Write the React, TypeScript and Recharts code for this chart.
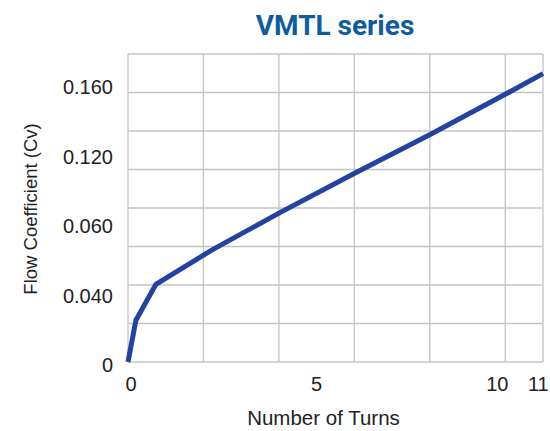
import { LineChart, Line, XAxis, YAxis, CartesianGrid, Label } from "recharts";

// turns vs flow coefficient
const turns = [0, 0.21, 0.74, 2.23, 4.04, 6.02, 8.01, 10.0, 11.0];
const cv = [0, 0.0241, 0.0447, 0.0646, 0.0862, 0.1089, 0.131, 0.1542, 0.1661];

const xTicks = [0, 5, 10, 11];
const yTicks = [0, 0.04, 0.08, 0.12, 0.16];
const yTickLabels = ["0", "0.040", "0.060", "0.120", "0.160"];

const Y_MAX = 0.1774;
const X_MAX = 11;

const FONT = "'Liberation Sans', Arial, sans-serif";

const data = turns.map((t, i) => ({ turns: t, cv: cv[i] }));

const XTick = (props: any) => {
    const { x, y, payload } = props;
    // the two end labels sit a little left of their ticks in the original
    const shift = payload.value === 10 ? -8 : payload.value === 11 ? -4 : payload.value === 0 ? 3 : 0;
    return (
        <text x={x + shift} y={y + 21} textAnchor="middle" fontSize={20} fill="#222" fontFamily={FONT}>
            {payload.value}
        </text>
    );
};

const YTick = (props: any) => {
    const { x, y, payload } = props;
    const idx = yTicks.indexOf(payload.value);
    return (
        <text x={x - 7} y={y + 10} textAnchor="end" fontSize={20} fill="#222" fontFamily={FONT}>
            {yTickLabels[idx]}
        </text>
    );
};

const YTitle = () => (
    <text
        x={30}
        y={209}
        transform="rotate(-90 30 209)"
        textAnchor="middle"
        dominantBaseline="central"
        fontSize={18.5}
        fill="#222"
        fontFamily={FONT}
    >
        Flow Coefficient (Cv)
    </text>
);

export default function App() {
    const gridY = Array.from({ length: 9 }, (_, i) => (Y_MAX * i) / 8);
    const gridX = [0, 2, 4, 6, 8, 10, 11];

    return (
        <div style={{ position: "absolute", left: 0, top: 0, width: 550, height: 431, background: "#fff" }}>
            <div
                style={{
                    position: "absolute",
                    left: 0,
                    width: 670,
                    top: 10,
                    textAlign: "center",
                    fontFamily: "Roboto, sans-serif",
                    fontWeight: 700,
                    fontSize: 28,
                    lineHeight: "32px",
                    color: "#0f5c9e",
                }}
            >
                VMTL series
            </div>
            <LineChart
                width={550}
                height={431}
                data={data}
                margin={{ top: 54, right: 7, bottom: 0, left: 0 }}
            >
                <CartesianGrid
                    stroke="#c4c4c4"
                    strokeWidth={1.3}
                    horizontalValues={gridY}
                    verticalValues={gridX}
                />
                <XAxis
                    type="number"
                    dataKey="turns"
                    domain={[0, X_MAX]}
                    ticks={xTicks}
                    tick={<XTick />}
                    tickLine={false}
                    axisLine={false}
                    height={69}
                >
                    <Label
                        value="Number of Turns"
                        position="insideBottom"
                        offset={6}
                        dx={-12}
                        style={{ fontSize: 20.5, fill: "#222", fontFamily: FONT }}
                    />
                </XAxis>
                <YAxis
                    type="number"
                    domain={[0, Y_MAX]}
                    ticks={yTicks}
                    tick={<YTick />}
                    tickLine={false}
                    axisLine={false}
                    width={128}
                >
                    <Label content={<YTitle />} />
                </YAxis>
                <Line
                    type="linear"
                    dataKey="cv"
                    stroke="#2443a0"
                    strokeWidth={5}
                    dot={false}
                    isAnimationActive={false}
                />
            </LineChart>
        </div>
    );
}
